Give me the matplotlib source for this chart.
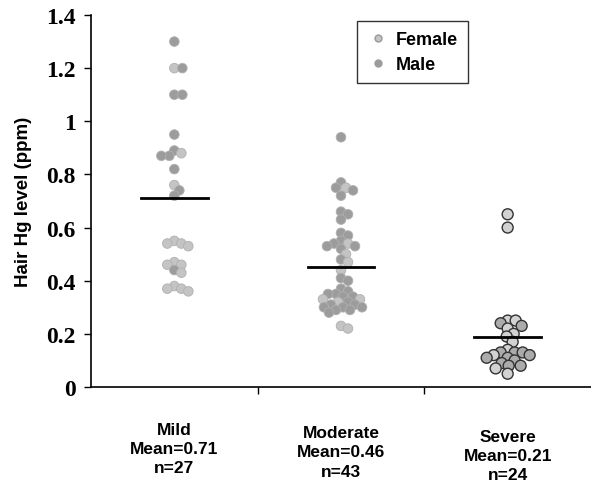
import numpy as np
import matplotlib.pyplot as plt
from matplotlib.lines import Line2D

# Hair Hg level (ppm) per group
groups = ['Mild', 'Moderate', 'Severe']
means = [0.71, 0.46, 0.21]          # printed means
mean_line = [0.71, 0.45, 0.19]      # where the mean bars sit in the picture
counts = [27, 43, 24]

female = [
    [1.20, 0.88, 0.76, 0.55, 0.54, 0.54, 0.53, 0.47, 0.46, 0.46, 0.43,
     0.38, 0.37, 0.37, 0.36],
    [0.75, 0.54, 0.50, 0.47, 0.44, 0.33, 0.33, 0.32, 0.23, 0.22],
    [0.65, 0.60, 0.25, 0.25, 0.22, 0.20, 0.19, 0.17, 0.14, 0.12, 0.07, 0.05],
]
male = [
    [1.30, 1.20, 1.10, 1.10, 0.95, 0.89, 0.87, 0.87, 0.82, 0.74, 0.72, 0.44],
    [0.94, 0.77, 0.75, 0.74, 0.72, 0.66, 0.65, 0.63, 0.58, 0.57, 0.55,
     0.54, 0.53, 0.53, 0.52, 0.48, 0.41, 0.40, 0.37, 0.36, 0.35, 0.35,
     0.34, 0.34, 0.32, 0.31, 0.31, 0.30, 0.30, 0.30, 0.29, 0.29, 0.28],
    [0.24, 0.23, 0.13, 0.13, 0.13, 0.12, 0.11, 0.11, 0.10, 0.09, 0.08, 0.08],
]

W, H, DPI = 5.91, 4.89, 100
fig = plt.figure(figsize=(W, H), dpi=DPI)
ax = fig.add_axes([91 / 591, 1 - 388 / 489, 500 / 591, 372 / 489])
ax.set_xlim(-0.5, 2.5)
ax.set_ylim(0, 1.4)

# pixels per data unit, used to lay the dots out as a swarm
px_x = 500 / 3.0
px_y = 372 / 1.4


def swarm(values, diam, tight):
    # place dots top-down, each as close to the centre as it fits
    placed = []
    out = []
    for v in values:
        yv = v * px_y
        for step in range(0, 200):
            off = (step + 1) // 2 * (1 if step % 2 else -1)
            ok = all((off - px) ** 2 + (yv - py) ** 2 >= (tight * diam) ** 2
                     for px, py in placed)
            if ok:
                break
        placed.append((off, yv))
        out.append(off / px_x)
    return np.array(out)


for i in range(3):
    vals = np.array(female[i] + male[i])
    sex = np.array([0] * len(female[i]) + [1] * len(male[i]))
    order = np.argsort(-vals, kind='stable')
    vals, sex = vals[order], sex[order]
    if i == 2:
        xs = i + swarm(vals, 11, 0.68)
        fc = np.where(sex == 0, '#d2d2d2', '#ababab')
        ax.scatter(xs, vals, s=62, c=fc, edgecolors='#333333',
                   linewidths=1.0, zorder=3)
    else:
        xs = i + swarm(vals, 9.5, 0.75)
        fc = np.where(sex == 0, '#c4c4c4', '#9c9c9c')
        ax.scatter(xs, vals, s=48, c=fc, edgecolors='#b0b0b0',
                   linewidths=0.6, zorder=3)
    ax.plot([i - 0.2, i + 0.2], [mean_line[i]] * 2, color='black', lw=2,
            zorder=4)

for side in ['top', 'right']:
    ax.spines[side].set_visible(False)
for side in ['left', 'bottom']:
    ax.spines[side].set_linewidth(1.2)

yt = np.arange(0, 1.41, 0.2)
ax.set_yticks(yt)
ax.set_yticklabels([f'{v:g}' for v in np.round(yt, 1)],
                   fontfamily='Liberation Serif', fontweight='bold',
                   fontsize=17)
ax.tick_params(axis='y', direction='out', length=5, width=1, pad=6)
ax.set_xticks([0.5, 1.5])
ax.set_xticklabels([])
ax.tick_params(axis='x', direction='out', length=5, width=1)

ax.set_ylabel('Hair Hg level (ppm)', fontfamily='Liberation Sans',
              fontweight='bold', fontsize=13.5, labelpad=10)

label_y = [-0.132, -0.144, -0.158]
for i, g in enumerate(groups):
    ax.text(i, label_y[i], f'{g}\nMean={means[i]:.2f}\nn={counts[i]}',
            ha='center', va='top', fontfamily='Liberation Sans',
            fontweight='bold', fontsize=12.5, linespacing=1.35,
            transform=ax.transData, clip_on=False)

handles = [
    Line2D([], [], ls='none', marker='o', ms=5, mfc='#c4c4c4',
           mec='#999999', label='Female'),
    Line2D([], [], ls='none', marker='o', ms=5, mfc='#9c9c9c',
           mec='#9c9c9c', label='Male'),
]
leg = ax.legend(handles=handles, loc='upper left',
                bbox_to_anchor=((357 - 91) / 500, (388 - 22) / 372),
                borderaxespad=0, frameon=True, fancybox=False,
                edgecolor='black', handletextpad=0.4, borderpad=0.55,
                labelspacing=0.45, handlelength=1.2,
                prop={'family': 'Liberation Sans', 'weight': 'bold',
                      'size': 13})
leg.get_frame().set_linewidth(1.0)

fig.savefig('out.png', dpi=DPI)
